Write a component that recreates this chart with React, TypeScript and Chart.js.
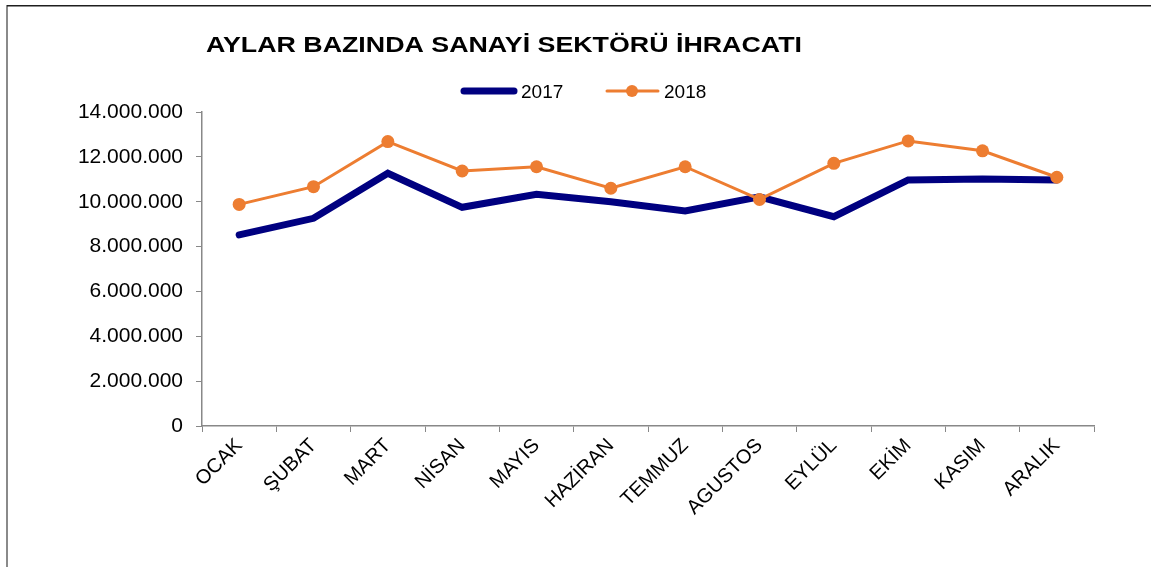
import { useEffect, useRef } from "react";
import { Chart, registerables } from "chart.js";

Chart.register(...registerables);

const TITLE = "AYLAR BAZINDA SANAYİ SEKTÖRÜ İHRACATI";
const MONTHS = ["OCAK", "ŞUBAT", "MART", "NİSAN", "MAYIS", "HAZİRAN", "TEMMUZ", "AGUSTOS", "EYLÜL", "EKİM", "KASIM", "ARALIK"];
const SERIES_NAMES = ["2017", "2018"];
const EXPORTS_2017 = [8520000, 9260000, 11270000, 9750000, 10330000, 10000000, 9590000, 10220000, 9330000, 10970000, 11010000, 10970000];
const EXPORTS_2018 = [9880000, 10670000, 12680000, 11370000, 11560000, 10600000, 11560000, 10100000, 11710000, 12710000, 12270000, 11090000];
const Y_MAX = 14000000;
const Y_STEP = 2000000;

const NAVY = "#000080";
const ORANGE = "#ED7D31";
const FONT = "'Liberation Sans', Arial, sans-serif";

const fmt = (v: number) => String(Math.round(v)).replace(/\B(?=(\d{3})+(?!\d))/g, ".");

const decorPlugin = {
  id: "decor",
  beforeDraw(chart: any) {
    const ctx = chart.ctx;
    ctx.save();
    ctx.fillStyle = "#fff";
    ctx.fillRect(0, 0, chart.width, chart.height);
    // frame
    ctx.fillStyle = "#8a8a8a";
    ctx.fillRect(6, 5, 2, chart.height - 5);
    ctx.fillStyle = "#1e1e1e";
    ctx.fillRect(7, 5, chart.width - 7, 1.5);
    ctx.restore();
  },
  afterDraw(chart: any) {
    const ctx = chart.ctx;
    ctx.save();
    // title
    ctx.font = `bold 22px ${FONT}`;
    ctx.fillStyle = "#000";
    ctx.textBaseline = "alphabetic";
    ctx.textAlign = "left";
    const w = ctx.measureText(TITLE).width;
    ctx.translate(206, 52);
    ctx.scale(596 / w, 1);
    ctx.fillText(TITLE, 0, 0);
    ctx.restore();

    // legend
    ctx.save();
    ctx.lineCap = "round";
    ctx.strokeStyle = NAVY;
    ctx.lineWidth = 7;
    ctx.beginPath();
    ctx.moveTo(464, 91);
    ctx.lineTo(514, 91);
    ctx.stroke();
    ctx.strokeStyle = ORANGE;
    ctx.lineWidth = 3;
    ctx.beginPath();
    ctx.moveTo(607, 91);
    ctx.lineTo(658, 91);
    ctx.stroke();
    ctx.fillStyle = ORANGE;
    ctx.beginPath();
    ctx.arc(632, 91, 6, 0, Math.PI * 2);
    ctx.fill();
    ctx.font = `19px ${FONT}`;
    ctx.fillStyle = "#000";
    ctx.textBaseline = "alphabetic";
    ctx.fillText(SERIES_NAMES[0], 521, 98);
    ctx.fillText(SERIES_NAMES[1], 664, 98);
    ctx.restore();
  },
};

export default function App() {
  const ref = useRef<HTMLCanvasElement>(null);
  useEffect(() => {
    if (!ref.current) return;
    const chart = new Chart(ref.current, {
      type: "line",
      data: {
        labels: MONTHS,
        datasets: [
          {
            label: SERIES_NAMES[0],
            data: EXPORTS_2017,
            borderColor: NAVY,
            backgroundColor: NAVY,
            borderWidth: 7,
            pointRadius: 0,
            borderCapStyle: "round",
            borderJoinStyle: "miter",
            tension: 0,
            order: 2,
          },
          {
            label: SERIES_NAMES[1],
            data: EXPORTS_2018,
            borderColor: ORANGE,
            backgroundColor: ORANGE,
            borderWidth: 3,
            pointRadius: 6.5,
            pointBorderWidth: 0,
            pointBackgroundColor: ORANGE,
            tension: 0,
            order: 1,
          },
        ],
      },
      options: {
        animation: false,
        responsive: false,
        layout: { padding: { left: 0, right: 57, top: 112, bottom: 0 } },
        plugins: {
          legend: { display: false },
          title: { display: false },
          tooltip: { enabled: false },
        },
        scales: {
          x: {
            type: "category",
            offset: true,
            grid: { display: true, drawOnChartArea: false, drawTicks: true, tickLength: 6, color: "#888", offset: true },
            border: { color: "#888", width: 1.5 },
            ticks: {
              minRotation: 45,
              maxRotation: 45,
              autoSkip: false,
              color: "#000",
              padding: 2,
              font: { size: 20, family: FONT },
            },
            afterFit: (s: any) => {
              s.height = 141;
            },
          },
          y: {
            min: 0,
            max: Y_MAX,
            grid: { display: true, drawOnChartArea: false, drawTicks: true, tickLength: 6, color: "#888" },
            border: { color: "#888", width: 1.5 },
            ticks: {
              stepSize: Y_STEP,
              color: "#000",
              padding: 13,
              font: { size: 21, family: FONT },
              callback: (v: any) => fmt(Number(v)),
            },
            afterFit: (s: any) => {
              s.width = 202;
            },
          },
        },
      },
      plugins: [decorPlugin],
    });
    return () => chart.destroy();
  }, []);
  return (
    <div style={{ position: "absolute", left: 0, top: 0, width: 1151, height: 567 }}>
      <canvas ref={ref} width={1151} height={567} style={{ display: "block" }} />
    </div>
  );
}
